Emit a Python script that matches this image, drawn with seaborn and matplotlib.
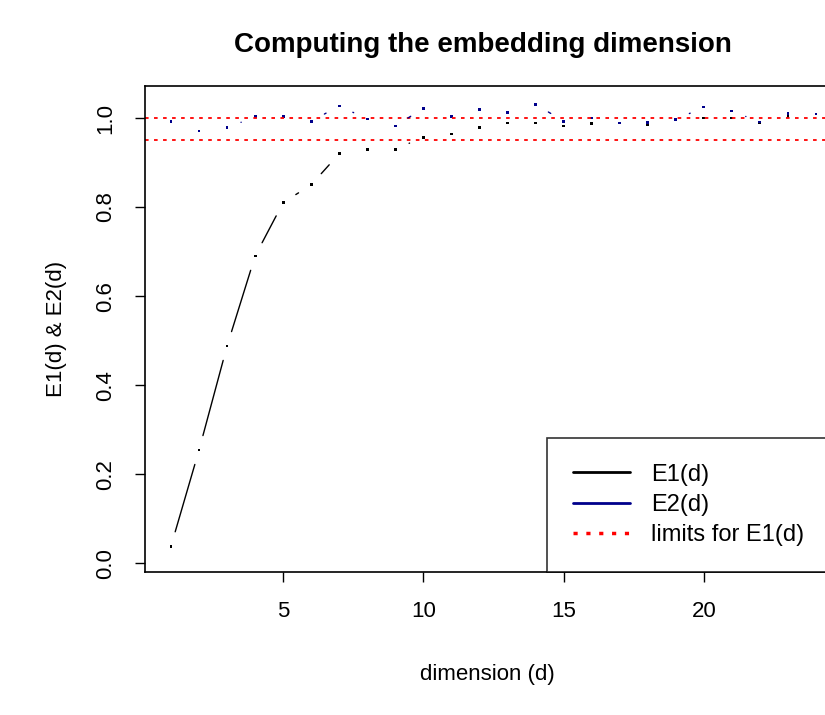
import numpy as np
import matplotlib.pyplot as plt
import seaborn as sns
import pandas as pd
from matplotlib.lines import Line2D

dims = list(range(1, 25))
e1 = [0.038, 0.254, 0.488, 0.69, 0.81, 0.85, 0.92, 0.93, 0.93, 0.957, 0.964, 0.978,
      0.989, 0.989, 0.982, 0.987, 0.989, 0.985, 0.996, 1.0, 1.0, 0.99, 1.003, 1.009]
e2 = [0.993, 0.971, 0.978, 1.003, 1.003, 0.993, 1.027, 0.998, 0.982, 1.022, 1.003, 1.02,
      1.013, 1.031, 0.993, 1.0, 0.989, 0.99, 0.996, 1.025, 1.016, 0.991, 1.01, 1.009]
limits = [1.0, 0.95]

sns.set_style("white")
plt.rcParams['font.family'] = ['Liberation Sans', 'DejaVu Sans']
plt.rcParams['text.color'] = 'black'
plt.rcParams['axes.labelcolor'] = 'black'

fig = plt.figure(figsize=(8.25, 7.15), dpi=100)
ax = fig.add_axes([0.176, 1 - 572 / 715, 0.83, (572 - 86) / 715])
ax.set_xlim(0.08, 24.5)
ax.set_ylim(-0.02, 1.072)


def gapped(ax, x, y, color, gap=15):
    # R type="b": segments stop short of each point
    pts = ax.transData.transform(np.column_stack([x, y]))
    inv = ax.transData.inverted()
    for p, q in zip(pts[:-1], pts[1:]):
        d = q - p
        L = np.hypot(*d)
        if L <= 2 * gap:
            continue
        u = d / L
        a, b = inv.transform(p + u * gap), inv.transform(q - u * gap)
        ax.plot([a[0], b[0]], [a[1], b[1]], color=color, lw=1.0)


df = pd.DataFrame({"d": dims * 2, "v": e1 + e2, "s": ["E1"] * 24 + ["E2"] * 24})
for lv in limits:
    ax.axhline(lv, color="red", ls=(0, (2, 3)), lw=1.3)
gapped(ax, dims, e1, "black")
gapped(ax, dims, e2, "#00008B")
sns.scatterplot(data=df, x="d", y="v", hue="s", palette={"E1": "black", "E2": "#00008B"},
                s=4, marker="s", linewidth=0, legend=False, ax=ax)

ax.set_xticks([5, 10, 15, 20])
ax.set_yticks([0.0, 0.2, 0.4, 0.6, 0.8, 1.0])
ax.set_yticklabels(["0.0", "0.2", "0.4", "0.6", "0.8", "1.0"], rotation=90, va="center")
ax.tick_params(axis="both", direction="out", length=7, width=1, labelsize=16, colors="black",
               left=True, bottom=True)
ax.tick_params(axis="x", pad=14)
ax.tick_params(axis="y", pad=14)
for sp in ax.spines.values():
    sp.set_color("black")
    sp.set_linewidth(1.2)
ax.set_xlabel("dimension (d)", fontsize=16, labelpad=30)
ax.set_ylabel("E1(d) & E2(d)", fontsize=16, labelpad=20)
fig.suptitle("Computing the embedding dimension", fontsize=20, fontweight="bold", x=0.585, y=0.955)

handles = [Line2D([], [], color="black", lw=2),
           Line2D([], [], color="#00008B", lw=2),
           Line2D([], [], color="red", lw=2.5, ls=(0, (1.2, 2.5)))]
leg = ax.legend(handles, ["E1(d)", "E2(d)", "limits for E1(d)"], loc="lower right",
                fontsize=17, frameon=True, fancybox=False, edgecolor="black",
                borderaxespad=0, handlelength=2.4, borderpad=1.1, labelspacing=0.35,
                handletextpad=0.9)
leg.get_frame().set_linewidth(1.2)

fig.savefig("out.png", dpi=100)
